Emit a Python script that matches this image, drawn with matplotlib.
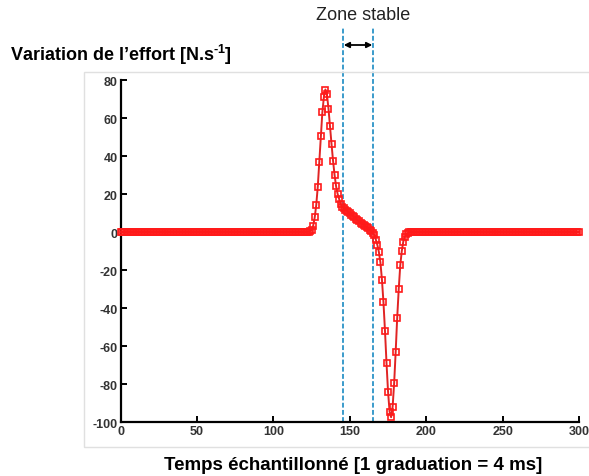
import numpy as np
import matplotlib
matplotlib.use("Agg")
import matplotlib.pyplot as plt
from matplotlib.patches import Rectangle

plt.rcParams['font.family'] = ['Liberation Sans', 'DejaVu Sans']
plt.rcParams['axes.unicode_minus'] = False
plt.rcParams['mathtext.fontset'] = 'custom'
plt.rcParams['mathtext.rm'] = 'Liberation Sans'
plt.rcParams['mathtext.bf'] = 'Liberation Sans:bold'

# samples 0..300, signal is flat at 0 outside the pulse
n_samples = 301
pulse_start = 123
pulse_values = [
    0.2, 0.5, 1.2, 3.3, 7.7, 14.2, 23.8, 36.7, 50.4, 63.0,      # 123-132
    71.0, 75.0, 72.5, 65.0, 55.6, 46.3, 37.5, 30.0, 24.0, 20.0,  # 133-142
    17.4, 14.7, 13.3, 12.4, 11.7, 11.1, 10.5, 9.9, 9.2, 8.5,     # 143-152
    7.7, 7.0, 6.3, 5.6, 5.0, 4.4, 3.8, 3.2, 2.6, 1.9,            # 153-162
    1.2, 0.5, -0.4, -1.5, -4.0, -6.8, -10.5, -16.0, -25.0, -37.0,  # 163-172
    -52.0, -69.0, -84.0, -94.5, -97.5, -92.0, -79.5, -63.0, -45.0, -30.0,  # 173-182
    -17.5, -10.0, -5.0, -2.5, -1.2, -0.5, -0.2,                  # 183-189
]
zone_start = 145.5
zone_end = 165.2

x = np.arange(n_samples)
y = np.zeros(n_samples)
y[pulse_start:pulse_start + len(pulse_values)] = pulse_values

fig = plt.figure(figsize=(5.89, 4.77), dpi=100)

# light frame around the plot panel (runs off the right edge)
fig.patches.append(Rectangle((84 / 589, 1 - 448 / 477), 0.9, (448 - 73) / 477,
                             transform=fig.transFigure, fill=False,
                             edgecolor="#e0e0e0", linewidth=1.0))

ax = fig.add_axes([120.7 / 589, 1 - 423 / 477, 458.3 / 589, 342 / 477])
ax.plot(x, y, color="#e02424", linewidth=1.4, marker="s", markersize=3.8,
        markerfacecolor="none", markeredgecolor="#ff1a1a", markeredgewidth=1.2,
        zorder=3, clip_on=False)

ax.set_xlim(0, 300)
ax.set_ylim(-100, 80)
ax.set_xticks(range(0, 301, 50))
ax.set_yticks(range(-100, 81, 20))
ax.spines["top"].set_visible(False)
ax.spines["right"].set_visible(False)
ax.spines["left"].set_linewidth(1.6)
ax.spines["bottom"].set_linewidth(1.6)
ax.tick_params(direction="in", length=4, width=1.4, labelsize=9, pad=2)
for lab in ax.get_xticklabels() + ax.get_yticklabels():
    lab.set_fontweight("bold")
    lab.set_color("#333333")

# stable zone limits, running up above the axes
y_top = ax.transData.inverted().transform(fig.transFigure.transform((0, 1 - 28 / 477)))[1]
for xv in (zone_start, zone_end):
    ax.plot([xv, xv], [-100, y_top], color="#3a9bcb", linewidth=1.4,
            linestyle=(0, (2.5, 1.2)), clip_on=False, zorder=2)

y_arrow = ax.transData.inverted().transform(fig.transFigure.transform((0, 1 - 46 / 477)))[1]
ax.annotate("", xy=(zone_start + 0.5, y_arrow), xytext=(zone_end - 0.5, y_arrow),
            xycoords="data", textcoords="data", annotation_clip=False,
            arrowprops=dict(arrowstyle="<|-|>", color="black", lw=1.3,
                            mutation_scale=8, shrinkA=0, shrinkB=0))

fig.text(363 / 589, 1 - 16 / 477, "Zone stable", ha="center", va="center",
         fontsize=13, color="#222222")
fig.text(10 / 589, 1 - 55 / 477,
         "Variation de l\u2019effort [N.s$^{\\mathbf{\u2010}\\mathbf{1}}$]",
         ha="left", va="center", fontsize=13, fontweight="bold")
fig.text(353 / 589, 1 - 466 / 477, "Temps \u00e9chantillonn\u00e9 [1 graduation = 4 ms]",
         ha="center", va="center", fontsize=13.5, fontweight="bold")

fig.savefig("out.png", dpi=100)
